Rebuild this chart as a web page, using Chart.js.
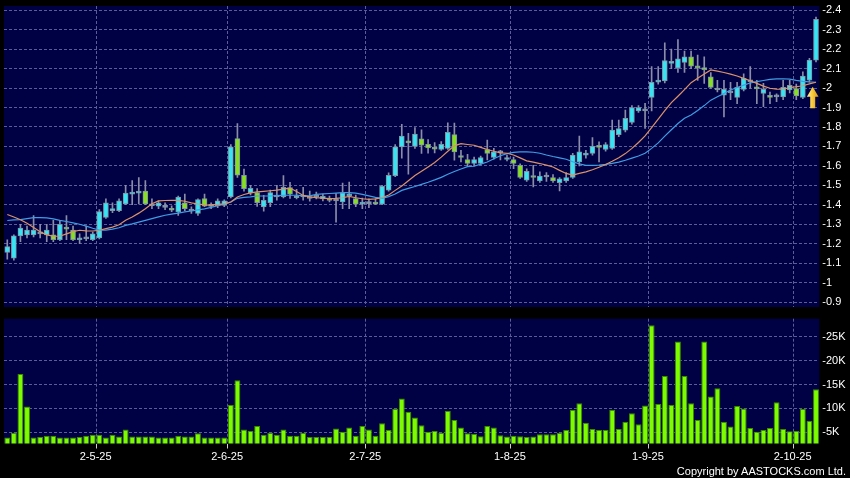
<!DOCTYPE html>
<html>
<head>
<meta charset="utf-8">
<script src="https://cdn.jsdelivr.net/npm/chart.js@4/dist/chart.umd.min.js"></script>
<style>
body { margin: 0; background: #000; width: 850px; height: 478px; overflow: hidden; position: relative; }
#price { position: absolute; left: 0; top: 0; }
#volume { position: absolute; left: 0; top: 312px; }
#copy { position: absolute; right: 4px; top: 465px; font: 11px 'Liberation Sans', Arial, sans-serif; color: #fff; }
</style>
</head>
<body>
<canvas id="price" width="850" height="312"></canvas>
<canvas id="volume" width="850" height="166"></canvas>
<div id="copy">Copyright by AASTOCKS.com Ltd.</div>
<script>
// daily candles, oldest first
var opens = [
    1.155, 1.125, 1.24, 1.245, 1.245, 1.25, 1.245, 1.245, 1.22, 1.28,
    1.27, 1.22, 1.225, 1.22, 1.23, 1.335, 1.37, 1.37, 1.405, 1.455,
    1.46, 1.47, 1.395, 1.393, 1.387, 1.378, 1.363, 1.41, 1.368, 1.355,
    1.432, 1.392, 1.394, 1.397, 1.44, 1.74, 1.552, 1.461, 1.463, 1.389,
    1.411, 1.44, 1.44, 1.488, 1.436, 1.44, 1.432, 1.44, 1.43, 1.432,
    1.42, 1.414, 1.446, 1.432, 1.403, 1.406, 1.414, 1.403, 1.475, 1.55,
    1.698, 1.72, 1.70, 1.739, 1.711, 1.69, 1.685, 1.69, 1.761, 1.65,
    1.633, 1.612, 1.612, 1.684, 1.643, 1.667, 1.633, 1.633, 1.603, 1.526,
    1.548, 1.523, 1.543, 1.54, 1.514, 1.523, 1.54, 1.62, 1.655, 1.664,
    1.70, 1.684, 1.69, 1.761, 1.784, 1.823, 1.883, 1.883, 1.952, 2.031,
    2.037, 2.127, 2.104, 2.132, 2.161, 2.11, 2.10, 2.058, 1.99, 1.964,
    1.975, 1.952, 1.993, 2.032, 2.0, 1.972, 1.96, 1.955, 1.955, 1.99,
    1.998, 1.952, 2.041, 2.144
];
var highs = [
    1.22, 1.245, 1.30, 1.29, 1.345, 1.30, 1.30, 1.32, 1.32, 1.345,
    1.29, 1.25, 1.29, 1.26, 1.375, 1.43, 1.41, 1.43, 1.50, 1.525,
    1.54, 1.525, 1.43, 1.42, 1.41, 1.395, 1.445, 1.455, 1.39, 1.43,
    1.455, 1.41, 1.43, 1.425, 1.71, 1.818, 1.583, 1.50, 1.483, 1.449,
    1.475, 1.50, 1.55, 1.516, 1.48, 1.49, 1.47, 1.465, 1.455, 1.445,
    1.458, 1.512, 1.517, 1.45, 1.435, 1.43, 1.43, 1.50, 1.564, 1.71,
    1.814, 1.767, 1.797, 1.785, 1.735, 1.72, 1.725, 1.821, 1.82, 1.68,
    1.66, 1.645, 1.65, 1.732, 1.69, 1.68, 1.655, 1.645, 1.61, 1.585,
    1.603, 1.57, 1.565, 1.555, 1.54, 1.565, 1.665, 1.753, 1.68, 1.745,
    1.724, 1.72, 1.835, 1.835, 1.887, 1.91, 1.91, 1.921, 2.11, 2.11,
    2.233, 2.20, 2.25, 2.19, 2.19, 2.17, 2.161, 2.08, 2.04, 2.04,
    2.03, 2.03, 2.073, 2.11, 2.04, 2.024, 1.98, 1.97, 2.04, 2.04,
    2.02, 2.084, 2.153, 2.365
];
var lows = [
    1.12, 1.115, 1.21, 1.23, 1.235, 1.23, 1.21, 1.21, 1.215, 1.22,
    1.215, 1.20, 1.215, 1.215, 1.225, 1.33, 1.36, 1.365, 1.40, 1.40,
    1.405, 1.40, 1.38, 1.38, 1.375, 1.365, 1.345, 1.37, 1.355, 1.345,
    1.39, 1.38, 1.385, 1.39, 1.435, 1.54, 1.47, 1.45, 1.392, 1.367,
    1.39, 1.423, 1.435, 1.432, 1.43, 1.423, 1.418, 1.43, 1.42, 1.415,
    1.311, 1.38, 1.38, 1.39, 1.38, 1.385, 1.40, 1.40, 1.47, 1.545,
    1.64, 1.557, 1.69, 1.664, 1.665, 1.667, 1.68, 1.685, 1.629, 1.62,
    1.60, 1.60, 1.605, 1.63, 1.635, 1.63, 1.625, 1.586, 1.535, 1.52,
    1.492, 1.515, 1.52, 1.515, 1.471, 1.515, 1.535, 1.60, 1.64, 1.655,
    1.62, 1.675, 1.685, 1.75, 1.775, 1.815, 1.875, 1.792, 1.883, 2.02,
    2.027, 2.10, 2.08, 2.08, 2.10, 2.04, 2.024, 2.0, 1.98, 1.852,
    1.94, 1.92, 1.985, 2.0, 1.92, 1.904, 1.92, 1.93, 1.94, 1.975,
    1.94, 1.945, 2.03, 2.135
];
var closes = [
    1.185, 1.24, 1.28, 1.27, 1.27, 1.25, 1.27, 1.22, 1.30, 1.275,
    1.22, 1.23, 1.225, 1.25, 1.365, 1.41, 1.38, 1.42, 1.46, 1.465,
    1.47, 1.405, 1.395, 1.41, 1.387, 1.372, 1.44, 1.38, 1.368, 1.427,
    1.393, 1.392, 1.42, 1.42, 1.698, 1.552, 1.483, 1.485, 1.411, 1.423,
    1.463, 1.44, 1.49, 1.454, 1.444, 1.44, 1.432, 1.44, 1.444, 1.422,
    1.42, 1.461, 1.452, 1.403, 1.41, 1.406, 1.403, 1.495, 1.552, 1.698,
    1.753, 1.718, 1.763, 1.706, 1.692, 1.686, 1.711, 1.772, 1.672, 1.643,
    1.612, 1.633, 1.643, 1.664, 1.672, 1.667, 1.643, 1.612, 1.54, 1.572,
    1.54, 1.548, 1.543, 1.523, 1.533, 1.54, 1.655, 1.672, 1.665, 1.70,
    1.695, 1.709, 1.784, 1.792, 1.844, 1.90, 1.90, 1.883, 2.03, 2.041,
    2.142, 2.132, 2.15, 2.161, 2.113, 2.104, 2.095, 2.004, 1.99, 1.993,
    1.975, 2.004, 2.05, 2.032, 1.996, 1.993, 1.952, 1.955, 2.004, 2.014,
    1.96, 2.062, 2.144, 2.354
];

// moving averages as drawn (orange short, blue long)
var maShort = [
    1.35, 1.337, 1.323, 1.305, 1.283, 1.261, 1.245, 1.238, 1.238, 1.25,
    1.262, 1.269, 1.266, 1.265, 1.269, 1.277, 1.285, 1.297, 1.32, 1.337,
    1.357, 1.38, 1.405, 1.42, 1.422, 1.423, 1.423, 1.418, 1.41, 1.404,
    1.399, 1.398, 1.402, 1.405, 1.414, 1.44, 1.453, 1.461, 1.466, 1.469,
    1.472, 1.475, 1.48, 1.486, 1.468, 1.448, 1.441, 1.437, 1.434, 1.432,
    1.433, 1.436, 1.443, 1.436, 1.431, 1.428, 1.43, 1.436, 1.45, 1.474,
    1.497, 1.523, 1.55, 1.572, 1.594, 1.617, 1.645, 1.675, 1.703, 1.714,
    1.71, 1.706, 1.695, 1.684, 1.675, 1.667, 1.665, 1.656, 1.641, 1.626,
    1.619, 1.612, 1.604, 1.594, 1.577, 1.561, 1.553, 1.561, 1.569, 1.58,
    1.593, 1.607, 1.624, 1.642, 1.663, 1.69, 1.72, 1.754, 1.797, 1.84,
    1.884, 1.925, 1.958, 1.992, 2.028, 2.051, 2.072, 2.093, 2.087, 2.08,
    2.072, 2.062, 2.05, 2.038, 2.024, 2.01, 1.999, 1.995, 1.994, 2.002,
    2.007, 2.012, 2.022, 2.03
];
var maLong = [
    1.319, 1.322, 1.324, 1.329, 1.334, 1.334, 1.333, 1.327, 1.32, 1.314,
    1.307, 1.3, 1.29, 1.279, 1.27, 1.27, 1.275, 1.282, 1.294, 1.302,
    1.311, 1.32, 1.329, 1.338, 1.346, 1.352, 1.357, 1.363, 1.368, 1.374,
    1.379, 1.387, 1.395, 1.403, 1.414, 1.433, 1.438, 1.441, 1.445, 1.445,
    1.445, 1.447, 1.449, 1.449, 1.449, 1.447, 1.446, 1.453, 1.456, 1.458,
    1.46, 1.462, 1.462, 1.46, 1.453, 1.446, 1.438, 1.433, 1.442, 1.455,
    1.474, 1.484, 1.494, 1.505, 1.516, 1.528, 1.541, 1.557, 1.571, 1.584,
    1.596, 1.598, 1.609, 1.62, 1.637, 1.652, 1.663, 1.669, 1.672, 1.672,
    1.67, 1.665, 1.656, 1.648, 1.641, 1.634, 1.621, 1.61, 1.603, 1.603,
    1.604, 1.608, 1.613, 1.619, 1.629, 1.64, 1.651, 1.665, 1.69, 1.718,
    1.753, 1.786, 1.818, 1.845, 1.862, 1.885, 1.91, 1.938, 1.955, 1.972,
    1.99, 2.003, 2.015, 2.026, 2.033, 2.039, 2.045, 2.047, 2.048, 2.046,
    2.04, 2.035, 2.032, 2.03
];

var volumes = [
    3900, 4900, 17200, 10400, 3900, 4000, 4300, 4300, 3900, 3900,
    3900, 4000, 4300, 4500, 4500, 3900, 4500, 4100, 5600, 4100,
    4100, 4100, 4100, 3900, 3900, 3900, 4300, 4100, 4100, 4800,
    3900, 3900, 3900, 3900, 10700, 15900, 5600, 5300, 6300, 4500,
    4900, 4500, 5600, 4300, 4300, 4900, 4000, 4000, 4000, 4000,
    5800, 5100, 6000, 4300, 6300, 5600, 4300, 6900, 5500, 9900,
    12100, 9300, 8100, 6500, 5100, 5300, 4900, 9500, 7600, 6000,
    4800, 4700, 4200, 6300, 6000, 4400, 4100, 4300, 4200, 4000,
    4100, 4600, 4600, 4600, 4900, 5500, 9700, 11100, 7000, 5700,
    5500, 5500, 9700, 5700, 7200, 9000, 6700, 10600, 27400, 10900,
    16800, 10700, 24000, 16800, 11100, 7600, 24000, 12500, 14200, 7200,
    6200, 10500, 10000, 5900, 5100, 5500, 5900, 11300, 5700, 5200,
    5300, 9900, 7400, 14000
];

var tickIdx = [14, 34, 55, 77, 98, 120];
var tickText = ['2-5-25', '2-6-25', '2-7-25', '1-8-25', '1-9-25', '2-10-25'];
var priceTicks = [0.9, 1, 1.1, 1.2, 1.3, 1.4, 1.5, 1.6, 1.7, 1.8, 1.9, 2, 2.1, 2.2, 2.3, 2.4];
var volumeTicks = [5000, 10000, 15000, 20000, 25000];

// buy signal arrow
var signalIndex = 122;
var signalTop = 2.007;
var signalBottom = 1.896;

var categories = opens.map(function(o, i) {
    var k = tickIdx.indexOf(i);
    return k < 0 ? '' : tickText[k];
});


var navy = '#000044';
var gridColor = '#5c5c98';
var labelFont = { family: "'Liberation Sans', Arial, sans-serif", size: 11 };

var plotBg = {
    id: 'plotBg',
    beforeDraw: function(chart) {
        var a = chart.chartArea;
        chart.ctx.save();
        chart.ctx.fillStyle = navy;
        chart.ctx.fillRect(a.left, a.top, a.right - a.left, a.bottom - a.top);
        chart.ctx.restore();
    }
};

var arrow = {
    id: 'arrow',
    afterDatasetsDraw: function(chart) {
        var x = chart.scales.x, y = chart.scales.y, ctx = chart.ctx;
        var cx = (x.getPixelForValue(signalIndex) + x.getPixelForValue(signalIndex + 1)) / 2;
        var top = y.getPixelForValue(signalTop);
        var bottom = y.getPixelForValue(signalBottom);
        var hw = 5.8, sw = 2.5, hh = 10;
        var g = ctx.createLinearGradient(cx - hw, 0, cx + hw, 0);
        g.addColorStop(0, '#fff0a0');
        g.addColorStop(0.5, '#f8c838');
        g.addColorStop(1, '#d89410');
        ctx.save();
        ctx.beginPath();
        ctx.moveTo(cx, top);
        ctx.lineTo(cx + hw, top + hh);
        ctx.lineTo(cx + sw, top + hh);
        ctx.lineTo(cx + sw, bottom);
        ctx.lineTo(cx - sw, bottom);
        ctx.lineTo(cx - sw, top + hh);
        ctx.lineTo(cx - hw, top + hh);
        ctx.closePath();
        ctx.fillStyle = g;
        ctx.fill();
        ctx.restore();
    }
};

function gridFor(ctx) {
    return categories[ctx.index] ? gridColor : 'transparent';
}

var bodies = opens.map(function(o, i) { return [o, closes[i]]; });
var wicks = lows.map(function(l, i) { return [l, highs[i]]; });
var bodyColors = opens.map(function(o, i) {
    if (closes[i] > o) return '#36e4f4';
    if (closes[i] < o) return '#86e020';
    return '#8c9cb0';
});

new Chart(document.getElementById('price'), {
    type: 'bar',
    data: {
        labels: categories,
        datasets: [{
                type: 'line',
                data: maShort,
                borderColor: '#dc9268',
                borderWidth: 1.2,
                pointRadius: 0,
                order: 0
            },
            {
                type: 'line',
                data: maLong,
                borderColor: '#3f9de4',
                borderWidth: 1.2,
                pointRadius: 0,
                order: 0
            },
            {
                data: bodies,
                backgroundColor: bodyColors,
                borderColor: '#7f95a4',
                borderWidth: 1,
                borderSkipped: false,
                barThickness: 5,
                minBarLength: 2,
                grouped: false,
                order: 1
            },
            {
                data: wicks,
                backgroundColor: '#8a8ca8',
                barThickness: 1,
                grouped: false,
                order: 2
            }
        ]
    },
    options: {
        responsive: false,
        animation: false,
        devicePixelRatio: 1,
        layout: { padding: { left: 4, top: 6, right: 0, bottom: 5 } },
        plugins: { legend: { display: false }, tooltip: { enabled: false } },
        scales: {
            x: {
                offset: true,
                grid: { offset: true, color: gridFor, drawTicks: false },
                border: { display: false, dash: [3, 2] },
                ticks: { display: false, autoSkip: false },
                afterFit: function(s) { s.height = 0; s.paddingLeft = 0; s.paddingRight = 0; }
            },
            y: {
                position: 'right',
                min: 0.8743,
                max: 2.4221,
                grid: { color: gridColor, drawTicks: false },
                border: { display: false, dash: [3, 2] },
                ticks: {
                    color: '#fff',
                    font: labelFont,
                    padding: 3,
                    callback: function(v) { return '-' + (+v.toFixed(1)); }
                },
                afterBuildTicks: function(s) {
                    s.ticks = priceTicks.map(function(v) { return { value: v }; });
                },
                afterFit: function(s) { s.width = 30.7; s.paddingTop = 0; s.paddingBottom = 0; }
            }
        }
    },
    plugins: [plotBg, arrow]
});


new Chart(document.getElementById('volume'), {
    type: 'bar',
    data: {
        labels: categories,
        datasets: [{
            data: volumes,
            backgroundColor: '#7dfc00',
            borderColor: '#3a8c00',
            borderWidth: 1,
            borderSkipped: 'bottom',
            barPercentage: 0.9,
            categoryPercentage: 1
        }]
    },
    options: {
        responsive: false,
        animation: false,
        devicePixelRatio: 1,
        layout: { padding: { left: 4, top: 6.7, right: 0, bottom: 0 } },
        plugins: { legend: { display: false }, tooltip: { enabled: false } },
        scales: {
            x: {
                offset: true,
                grid: {
                    offset: true,
                    color: gridFor,
                    tickColor: function(ctx) { return categories[ctx.index] ? '#d0d0d0' : 'transparent'; },
                    tickLength: 5
                },
                border: { display: false, dash: [3, 2] },
                ticks: {
                    autoSkip: false,
                    maxRotation: 0,
                    minRotation: 0,
                    color: '#fff',
                    font: labelFont,
                    padding: 2,
                    labelOffset: -3.7,
                    callback: function(v, i) { return categories[i]; }
                },
                afterFit: function(s) { s.height = 34.5; s.paddingLeft = 0; s.paddingRight = 0; }
            },
            y: {
                position: 'right',
                min: 2660,
                max: 28770,
                grid: { color: gridColor, drawTicks: false },
                border: { display: false, dash: [3, 2] },
                ticks: {
                    color: '#fff',
                    font: labelFont,
                    padding: 3,
                    callback: function(v) { return '-' + (v / 1000) + 'K'; }
                },
                afterBuildTicks: function(s) {
                    s.ticks = volumeTicks.map(function(v) { return { value: v }; });
                },
                afterFit: function(s) { s.width = 30.7; s.paddingTop = 0; s.paddingBottom = 0; }
            }
        }
    },
    plugins: [plotBg]
});
</script>
</body>
</html>
